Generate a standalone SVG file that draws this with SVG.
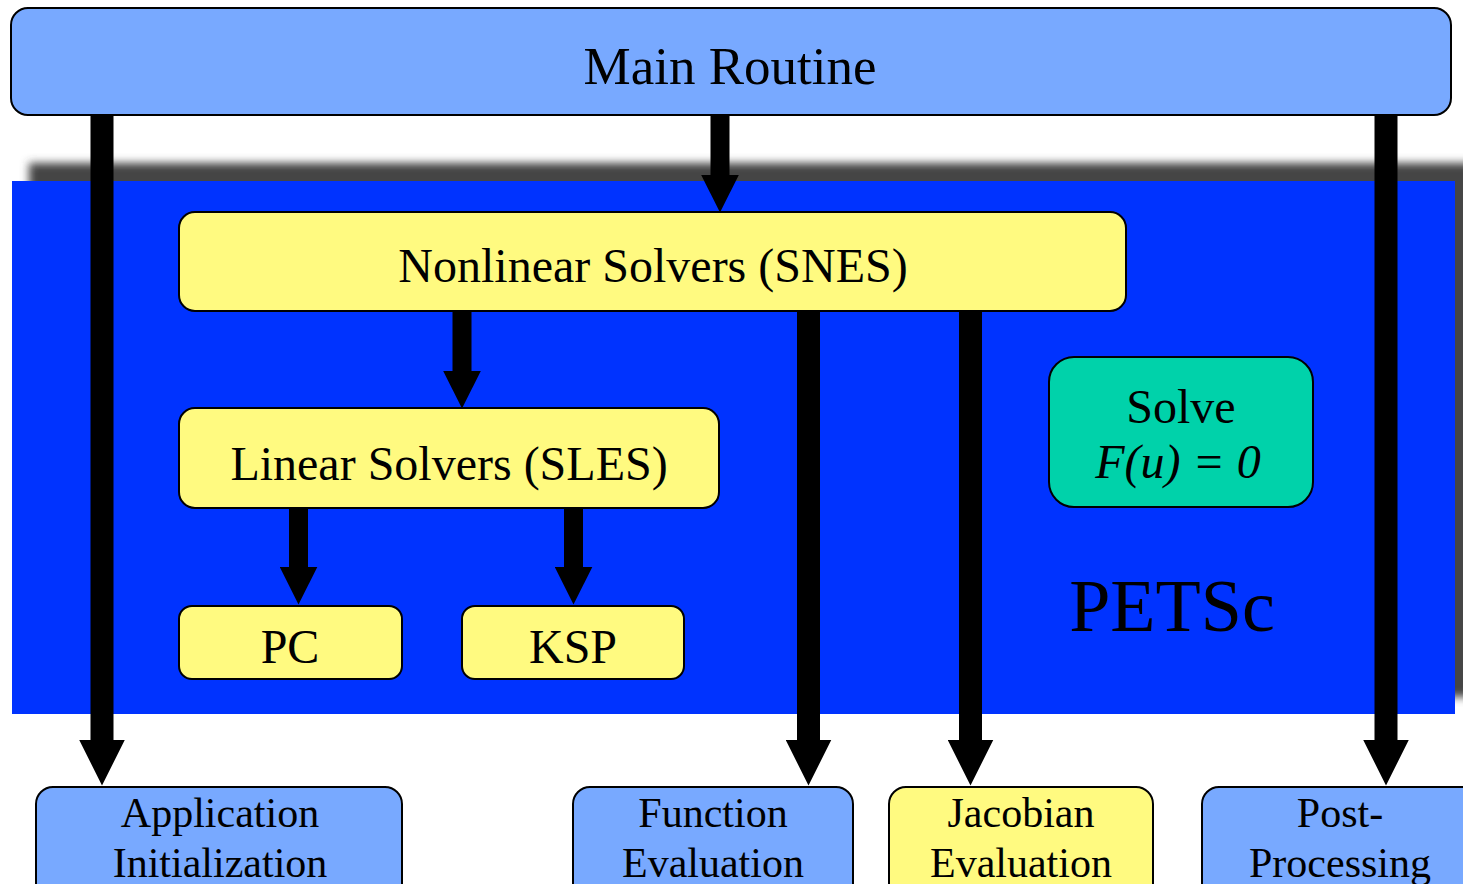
<svg xmlns="http://www.w3.org/2000/svg" width="1463" height="884" viewBox="0 0 1463 884">
<defs>
<style>
.box{stroke:#000;stroke-width:2}
.lb{fill:#78A9FF}
.yl{fill:#FFFA80}
.gr{fill:#00D2AA}
text{font-family:"Liberation Serif","Times New Roman",serif;fill:#000;text-anchor:middle}
.conn{stroke:#000;fill:none;marker-end:url(#ah)}
</style>
<filter id="blur" x="-5%" y="-10%" width="110%" height="120%"><feGaussianBlur stdDeviation="4"/></filter>
<marker id="ah" viewBox="0 0 2 2" refX="0.02" refY="1" markerWidth="2" markerHeight="2" orient="auto" markerUnits="strokeWidth"><path d="M0,0 L2,1 L0,2 z" fill="#000"/></marker>
</defs>
<rect width="1463" height="884" fill="#fff"/>
<g id="petsc">
<rect x="29" y="163" width="1443" height="534" fill="#444" filter="url(#blur)"/>
<rect x="12" y="181" width="1443" height="533" fill="#0033FF"/>
<text x="1172" y="631" font-size="74">PETSc</text>
</g>
<g id="main">
<rect class="box lb" x="11" y="8" width="1440" height="107" rx="17"/>
<text x="730" y="84" font-size="53">Main Routine</text>
</g>
<g id="snes">
<rect class="box yl" x="179" y="212" width="947" height="99" rx="16"/>
<text x="653" y="282" font-size="48">Nonlinear Solvers (SNES)</text>
</g>
<g id="sles">
<rect class="box yl" x="179" y="408" width="540" height="100" rx="16"/>
<text x="449" y="480" font-size="48">Linear Solvers (SLES)</text>
</g>
<g id="pc">
<rect class="box yl" x="179" y="606" width="223" height="73" rx="13"/>
<text x="290" y="663" font-size="48">PC</text>
</g>
<g id="ksp">
<rect class="box yl" x="462" y="606" width="222" height="73" rx="13"/>
<text x="573" y="663" font-size="48">KSP</text>
</g>
<g id="solve">
<rect class="box gr" x="1049" y="357" width="264" height="150" rx="25"/>
<text x="1181" y="423" font-size="48">Solve</text>
<text x="1178" y="478" font-size="48" font-style="italic">F(u) = 0</text>
</g>
<g id="app">
<rect class="box lb" x="36" y="787" width="366" height="120" rx="17"/>
<text x="220" y="827" font-size="42">Application</text>
<text x="220" y="877" font-size="42">Initialization</text>
</g>
<g id="func">
<rect class="box lb" x="573" y="787" width="280" height="120" rx="17"/>
<text x="713" y="827" font-size="42">Function</text>
<text x="713" y="877" font-size="42">Evaluation</text>
</g>
<g id="jac">
<rect class="box yl" x="889" y="787" width="264" height="120" rx="17"/>
<text x="1021" y="827" font-size="42">Jacobian</text>
<text x="1021" y="877" font-size="42">Evaluation</text>
</g>
<g id="post">
<rect class="box lb" x="1202" y="787" width="290" height="120" rx="17"/>
<text x="1340" y="827" font-size="42">Post-</text>
<text x="1340" y="877" font-size="42">Processing</text>
</g>
<g id="connectors">
<line class="conn" x1="102" y1="116" x2="102" y2="740" stroke-width="23"/>
<line class="conn" x1="720" y1="116" x2="720" y2="175" stroke-width="19"/>
<line class="conn" x1="1386" y1="116" x2="1386" y2="740" stroke-width="23"/>
<line class="conn" x1="462" y1="312" x2="462" y2="371" stroke-width="19"/>
<line class="conn" x1="808.5" y1="312" x2="808.5" y2="740" stroke-width="23"/>
<line class="conn" x1="970.5" y1="312" x2="970.5" y2="740" stroke-width="23"/>
<line class="conn" x1="298.5" y1="509" x2="298.5" y2="567" stroke-width="19"/>
<line class="conn" x1="573.5" y1="509" x2="573.5" y2="567" stroke-width="19"/>
</g>
</svg>
